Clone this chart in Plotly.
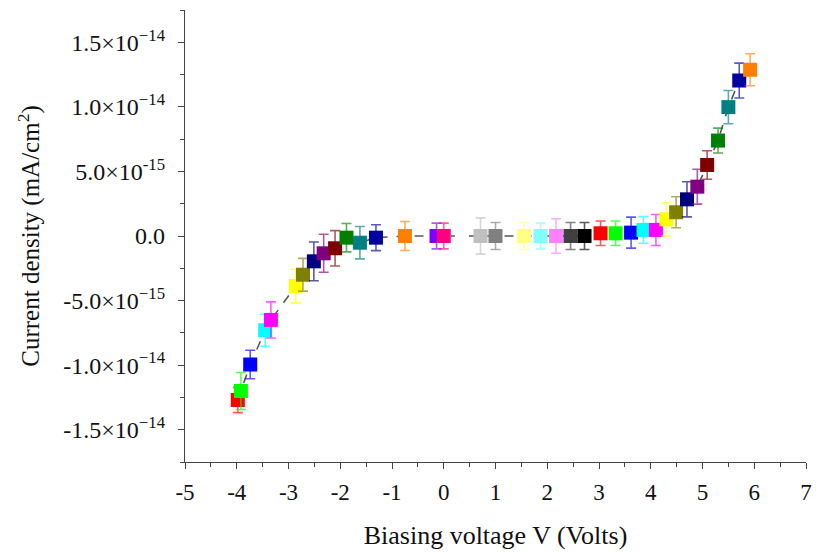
import plotly.graph_objects as go

# Biasing voltage (V)
voltage = [-3.98, -3.92, -3.74, -3.45, -3.34, -2.86, -2.72, -2.51, -2.32, -2.10,
           -1.88, -1.62, -1.31, -0.75, -0.14, 0.0, 0.35, 0.71, 1.0, 1.55,
           1.87, 2.17, 2.45, 2.72, 3.03, 3.32, 3.62, 3.86, 4.10, 4.30,
           4.49, 4.70, 4.90, 5.09, 5.30, 5.50, 5.71, 5.92]
# Current density (mA/cm^2)
current = [-1.27e-14, -1.20e-14, -0.995e-14, -7.3e-15, -6.5e-15, -3.88e-15, -3.0e-15, -1.96e-15, -1.34e-15, -0.95e-15,
           -0.13e-15, -0.52e-15, -0.13e-15, 0.0, 0.0, 0.0, 0.0, 0.0, 0.0, 0.0,
           0.0, 0.0, 0.0, 0.0, 0.21e-15, 0.21e-15, 0.26e-15, 0.47e-15, 0.47e-15, 1.29e-15,
           1.84e-15, 2.84e-15, 3.82e-15, 5.5e-15, 7.39e-15, 9.98e-15, 1.204e-14, 1.287e-14]
# Error (+/-)
error = [0.98e-15, 1.43e-15, 1.1e-15, 1.24e-15, 1.4e-15, 1.3e-15, 1.27e-15, 1.5e-15, 1.47e-15, 1.37e-15,
         1.1e-15, 1.25e-15, 1.0e-15, 1.12e-15, 1.0e-15, 1.0e-15, 1.0e-15, 1.4e-15, 1.05e-15, 1.05e-15,
         1.0e-15, 1.33e-15, 1.05e-15, 1.05e-15, 0.95e-15, 0.95e-15, 1.2e-15, 1.03e-15, 1.2e-15, 1.29e-15,
         1.2e-15, 1.36e-15, 1.35e-15, 1.1e-15, 0.96e-15, 1.29e-15, 1.35e-15, 1.24e-15]
colors = ["#FF0000", "#00FF00", "#0000FF", "#00FFFF", "#FF00FF", "#FFFF00", "#808000", "#000080",
          "#800080", "#800000", "#008000", "#008080", "#0000A0", "#FF8000", "#8000FF", "#FF0080",
          "#FFFFFF", "#C0C0C0", "#808080", "#FFFF80", "#80FFFF", "#FF80FF", "#404040", "#000000",
          "#FF0000", "#00FF00", "#0000FF", "#00FFFF", "#FF00FF", "#FFFF00", "#808000", "#000080",
          "#800080", "#800000", "#008000", "#008080", "#0000A0", "#FF8000"]

y_tickvals = [-1.5e-14, -1.0e-14, -5.0e-15, 0.0, 5.0e-15, 1.0e-14, 1.5e-14]
y_ticktext = ["-1.5×10<sup>−14</sup>", "-1.0×10<sup>−14</sup>", "-5.0×10<sup>−15</sup>", "0.0",
              "5.0×10<sup>-15</sup>", "1.0×10<sup>−14</sup>", "1.5×10<sup>−14</sup>"]
x_tickvals = [-5, -4, -3, -2, -1, 0, 1, 2, 3, 4, 5, 6, 7]
x_ticktext = ["-5", "-4", "-3", "-2", "-1", "0", "1", "2", "3", "4", "5", "6", "7"]


def rgba(hexc, a):
    h = hexc.lstrip("#")
    r, g, b = int(h[0:2], 16), int(h[2:4], 16), int(h[4:6], 16)
    return f"rgba({r},{g},{b},{a})"


fig = go.Figure()
fig.add_trace(go.Scatter(x=voltage, y=current, mode="lines",
                         line=dict(color="#555555", width=1.6, dash="dash"),
                         showlegend=False, hoverinfo="skip"))
for v, j, e, c in zip(voltage, current, error, colors):
    fig.add_trace(go.Scatter(
        x=[v], y=[j], mode="markers",
        marker=dict(symbol="square", size=14, color=c, line=dict(width=0)),
        error_y=dict(type="data", array=[e], visible=True, color=rgba(c, 0.65),
                     thickness=1.6, width=5),
        showlegend=False))

font_family = "Liberation Serif, Times New Roman, serif"
fig.update_layout(
    width=819, height=553,
    margin=dict(l=185, r=7, t=10, b=91),
    plot_bgcolor="white", paper_bgcolor="white",
    font=dict(family=font_family, color="#111111"),
    showlegend=False,
)
fig.update_xaxes(
    range=[-5, 7], tickmode="array", tickvals=x_tickvals, ticktext=x_ticktext,
    showgrid=False, zeroline=False, showline=True, linecolor="#444444", linewidth=1.3,
    ticks="outside", ticklen=6, tickwidth=1.2, tickcolor="#444444",
    minor=dict(tickmode="linear", tick0=-5, dtick=0.5, ticks="outside", ticklen=4, tickcolor="#444444"),
    tickfont=dict(size=23, family=font_family, color="#111111"),
    ticklabelstandoff=3,
    title=dict(text="Biasing voltage V (Volts)", font=dict(size=26, family=font_family, color="#111111"),
               standoff=22),
)
fig.update_yaxes(
    range=[-1.75e-14, 1.75e-14], tickmode="array", tickvals=y_tickvals, ticktext=y_ticktext,
    showgrid=False, zeroline=False, showline=True, linecolor="#444444", linewidth=1.3,
    ticks="outside", ticklen=6, tickwidth=1.2, tickcolor="#444444",
    minor=dict(tickmode="linear", tick0=0, dtick=2.5e-15, ticks="outside", ticklen=4, tickcolor="#444444"),
    tickfont=dict(size=24, family=font_family, color="#111111"),
    ticklabelstandoff=8,
    title=dict(text="Current density (mA/cm<sup>2</sup>)", font=dict(size=25, family=font_family, color="#111111"),
               standoff=16),
)

fig.write_html("out.html")
